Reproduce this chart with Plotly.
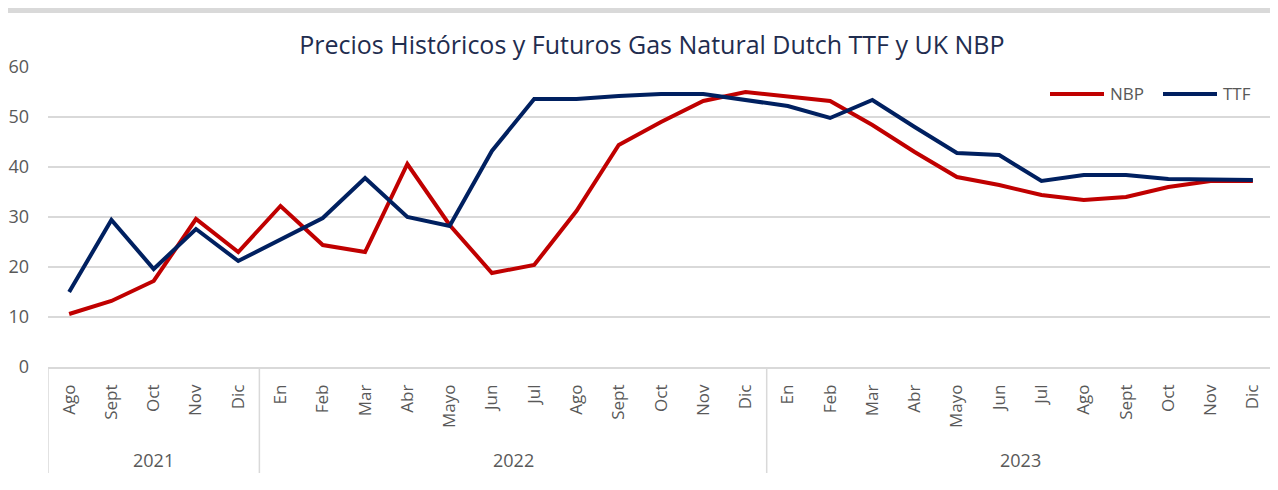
import plotly.graph_objects as go

years = ["2021", "2022", "2023"]
year_counts = [5, 12, 12]
months = ["Ago", "Sept", "Oct", "Nov", "Dic",
          "En", "Feb", "Mar", "Abr", "Mayo", "Jun", "Jul", "Ago", "Sept", "Oct", "Nov", "Dic",
          "En", "Feb", "Mar", "Abr", "Mayo", "Jun", "Jul", "Ago", "Sept", "Oct", "Nov", "Dic"]
nbp = [10.6, 13.2, 17.2, 29.6, 23.0,
       32.2, 24.4, 23.0, 40.6, 28.4, 18.8, 20.4, 31.2, 44.4, 49.0, 53.2, 55.0,
       54.2, 53.2, 48.4, 43.0, 38.0, 36.4, 34.4, 33.4, 34.0, 36.0, 37.2, 37.2]
ttf = [15.0, 29.4, 19.6, 27.6, 21.2,
       25.4, 29.8, 37.8, 30.0, 28.2, 43.2, 53.6, 53.6, 54.2, 54.6, 54.6, 53.4,
       52.2, 49.8, 53.4, 48.0, 42.8, 42.4, 37.2, 38.4, 38.4, 37.6, 37.4, 37.4]
series_names = ["NBP", "TTF"]
series_colors = ["#c00000", "#002060"]

idx = list(range(len(months)))
FONT = "Open Sans"
GRID = "#d9d9d9"
W, H = 1270, 482
ML, MR, MT, MB = 40, 4, 59, 123
PH = H - MT - MB
PW = W - ML - MR

fig = go.Figure()
for name, vals, col in zip(series_names, [nbp, ttf], series_colors):
    fig.add_trace(go.Scatter(x=idx, y=vals, name=name, mode="lines",
                             line=dict(color=col, width=4), showlegend=False))

fig.update_layout(
    width=W, height=H,
    margin=dict(l=ML, r=MR, t=MT, b=MB, autoexpand=False),
    paper_bgcolor="white", plot_bgcolor="white",
    font=dict(family=FONT, color="#595959", size=17),
    title=dict(text="Precios Históricos y Futuros Gas Natural Dutch TTF y UK NBP",
               x=0.507, xanchor="center", y=1 - 37 / H, yanchor="middle",
               font=dict(family=FONT, size=25, color="#1f2d4f")),
    showlegend=False,
)
fig.update_yaxes(range=[0, 60], dtick=10, showgrid=True, gridcolor=GRID, gridwidth=1.5,
                 zeroline=False, showline=False, ticks="", ticklabelstandoff=18,
                 automargin=False, tickfont=dict(size=18, color="#595959"))
fig.update_xaxes(range=[-0.5, len(months) - 0.5], tickmode="array", tickvals=idx, ticktext=months,
                 showline=True, linecolor=GRID, linewidth=1.5, showgrid=False, zeroline=False,
                 tickangle=-90, ticks="", ticklabelstandoff=9, automargin=False,
                 tickfont=dict(size=17, color="#595959"))

# year group labels and dividers
start = -0.5
bounds = [start]
for y, c in zip(years, year_counts):
    end = start + c
    fig.add_annotation(x=(start + end) / 2, xref="x", y=-(452 - MT - PH) / PH, yref="paper",
                       text=y, showarrow=False, font=dict(size=18, color="#595959"),
                       yanchor="middle")
    bounds.append(end)
    start = end
for b in bounds:
    fig.add_shape(type="line", xref="x", yref="paper", x0=b, x1=b, y0=0,
                  y1=-(465 - MT - PH) / PH, line=dict(color=GRID, width=1.5))

# legend (top right): line sample + label
leg_y = 1 - (86 - MT) / PH
for name, col, x0 in zip(series_names, series_colors, [1042, 1155]):
    fig.add_shape(type="line", xref="paper", yref="paper",
                  x0=(x0 - ML) / PW, x1=(x0 + 54 - ML) / PW, y0=leg_y, y1=leg_y,
                  line=dict(color=col, width=4))
    fig.add_annotation(x=(x0 + 58 - ML) / PW, xref="paper", y=leg_y, yref="paper",
                       text=name, showarrow=False, xanchor="left", yanchor="middle",
                       font=dict(size=17, color="#595959"))

fig.add_shape(type="rect", xref="paper", yref="paper", x0=-0.05, x1=1.01,
              y0=1 + (MT - 5) / PH, y1=1 + MT / PH, fillcolor=GRID, line_width=0,
              layer="above")
fig.write_html("out.html")
